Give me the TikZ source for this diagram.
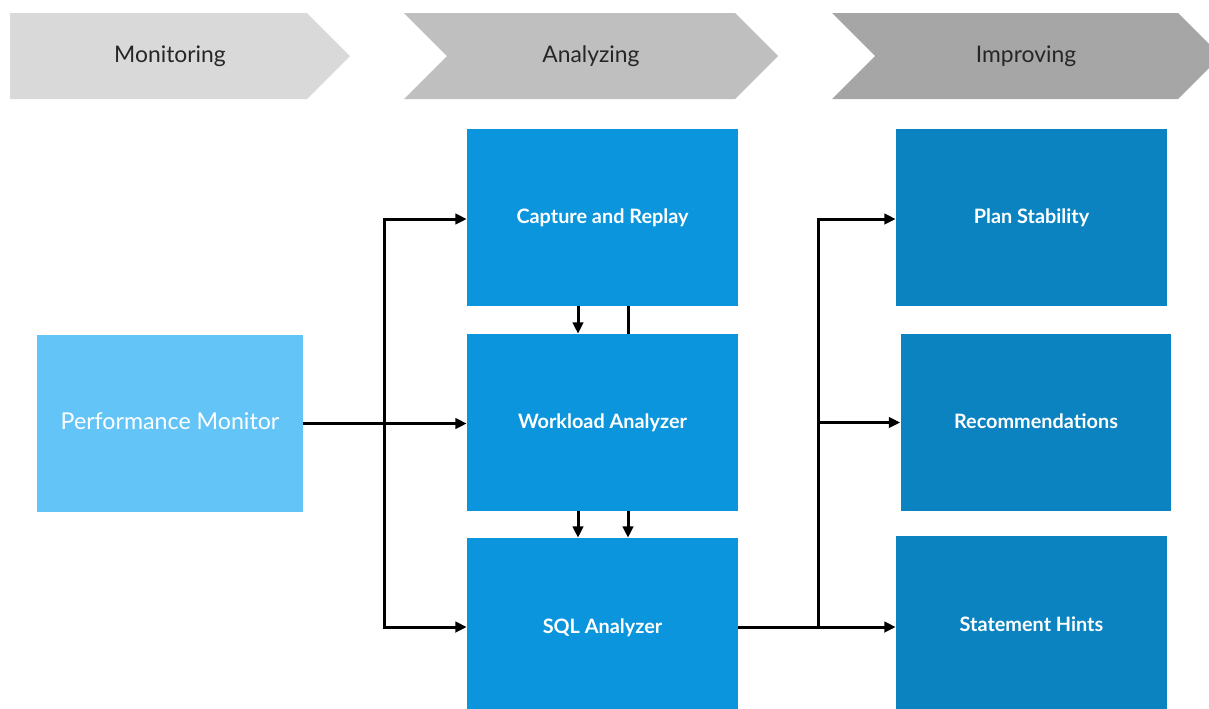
\documentclass[tikz,border=0pt]{standalone}
\usepackage{fontspec}
\setmainfont{Lato}
\usetikzlibrary{arrows.meta,calc}

\definecolor{phaseone}{HTML}{D9D9D9}
\definecolor{phasetwo}{HTML}{BFBFBF}
\definecolor{phasethree}{HTML}{A6A6A6}
\definecolor{monblue}{HTML}{63C5F7}
\definecolor{anablue}{HTML}{0A95DC}
\definecolor{impblue}{HTML}{0A83C0}

\begin{document}
\begin{tikzpicture}[
  x=0.02cm, y=-0.02cm,
  >={Triangle[length=6.5pt, width=6pt]},
  phase/.style={font=\fontsize{13}{15}\selectfont, text=black!85,
                text height=0.72em, text depth=0pt},
  box/.style={minimum width=5.42cm, minimum height=3.54cm, inner sep=0pt,
              text height=0.72em, text depth=0pt,
              text=white, font=\fontsize{11.3}{13}\selectfont\bfseries},
  arr/.style={->, line width=1.7pt}
]
\useasboundingbox (0,0) rectangle (1209,708);

%% Phase chevrons
\fill[phaseone] (10,13) -- (307,13) -- (350,56) -- (307,99) -- (10,99) -- cycle;
\node[phase] (mon) at (170,56) {Monitoring};
\fill[phasetwo] (404,13) -- (735,13) -- (778,56) -- (735,99) -- (404,99) -- (447,56) -- cycle;
\node[phase] (ana) at (591,56) {Analyzing};
\fill[phasethree] (832,13) -- (1178,13) -- (1221,56) -- (1178,99) -- (832,99) -- (875,56) -- cycle;
\node[phase] (imp) at (1026,56) {Improving};

%% Boxes
\node[box, fill=monblue, font=\fontsize{13.2}{15}\selectfont, minimum width=5.32cm] (pm) at (170,423.5) {Performance Monitor};
\node[box, fill=anablue] (cr) at (602.5,217.5) {Capture and Replay};
\node[box, fill=anablue] (wa) at (602.5,422.5) {Workload Analyzer};
\node[box, fill=anablue, minimum height=3.56cm] (sql) at (602.5,627) {SQL Analyzer};
\node[box, fill=impblue] (ps) at (1031.5,217.5) {Plan Stability};
\node[box, fill=impblue] (rec) at (1036,422.5) {Recommendations};
\node[box, fill=impblue, minimum height=3.56cm] (sh) at (1031.5,625) {Statement Hints};

%% Monitor -> analyzers
\coordinate (lt) at (384,219);
\coordinate (lb) at (384,627);
\draw[arr] (pm.east) -- (pm.east -| wa.west);
\draw[arr] (lb) -- (lt) -- (lt -| cr.west);
\draw[arr] (lt) -- (lb) -- (lb -| sql.west);

%% Between analyzers
\draw[arr] ($(cr.south)+(-24.5,0)$) -- ($(cr.south |- wa.north)+(-24.5,0)$);
\draw[line width=1.7pt] ($(cr.south)+(25.5,0)$) -- ($(cr.south |- wa.north)+(25.5,0)$);
\draw[arr] ($(wa.south)+(-24.5,0)$) -- ($(wa.south |- sql.north)+(-24.5,0)$);
\draw[arr] ($(wa.south)+(25.5,0)$) -- ($(wa.south |- sql.north)+(25.5,0)$);

%% SQL Analyzer -> improvements
\coordinate (rt) at (818,219);
\coordinate (rb) at (818,627);
\draw[arr] (sql.east |- rb) -- (rb -| sh.west);
\draw[arr] (rb) -- (rt) -- (rt -| ps.west);
\draw[arr] (rb |- rec.west) -- (rec.west);

\end{tikzpicture}
\end{document}
